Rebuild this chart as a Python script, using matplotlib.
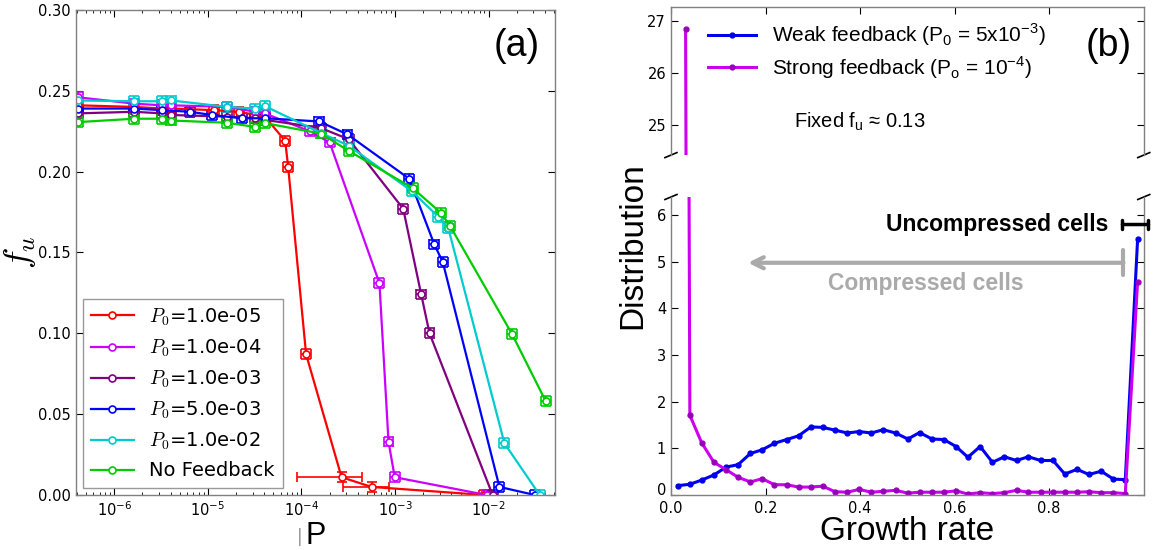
import numpy as np
import matplotlib
matplotlib.use("Agg")
import matplotlib.pyplot as plt
import matplotlib.transforms as mtransforms
from matplotlib.ticker import FormatStrFormatter, LogLocator, NullFormatter

# ---------------- panel (a) data: f_u versus P ----------------
labels_a = [r"$P_0$=1.0e-05", r"$P_0$=1.0e-04", r"$P_0$=1.0e-03",
            r"$P_0$=5.0e-03", r"$P_0$=1.0e-02", "No Feedback"]
colors_a = ["#ff0000", "#cc00ff", "#800080", "#0000ff", "#00cccc", "#00cc00"]

red_P = [4.06e-7, 1.64e-6, 3.22e-6, 4.06e-6, 1.17e-5, 2.13e-5, 4.06e-5, 6.7e-5, 7.2e-5, 1.12e-4, 2.68e-4, 5.6e-4, 9.0e-3]
red_f = [0.241, 0.240, 0.239, 0.239, 0.238, 0.237, 0.234, 0.219, 0.203, 0.087, 0.011, 0.005, 0.0]
mag_P = [4.06e-7, 1.64e-6, 3.22e-6, 4.06e-6, 1.61e-5, 3.22e-5, 4.06e-5, 1.22e-4, 2.0e-4, 6.8e-4, 8.5e-4, 9.9e-4, 9.5e-3]
mag_f = [0.246, 0.242, 0.241, 0.241, 0.240, 0.237, 0.236, 0.225, 0.218, 0.131, 0.033, 0.011, 0.0]
pur_P = [4.06e-7, 1.64e-6, 3.22e-6, 4.06e-6, 1.61e-5, 3.22e-5, 4.06e-5, 1.6e-4, 3.2e-4, 1.22e-3, 1.9e-3, 2.33e-3, 1.1e-2]
pur_f = [0.236, 0.237, 0.236, 0.235, 0.234, 0.233, 0.232, 0.227, 0.220, 0.177, 0.124, 0.100, 0.0]
blu_P = [4.06e-7, 1.64e-6, 3.22e-6, 6.5e-6, 1.1e-5, 2.3e-5, 4.06e-5, 1.55e-4, 3.1e-4, 1.42e-3, 2.62e-3, 3.23e-3, 1.3e-2, 3.1e-2]
blu_f = [0.239, 0.239, 0.238, 0.237, 0.235, 0.233, 0.233, 0.231, 0.223, 0.1955, 0.155, 0.144, 0.005, 0.0]
cya_P = [4.06e-7, 1.64e-6, 3.22e-6, 4.06e-6, 1.61e-5, 3.22e-5, 4.06e-5, 1.6e-4, 3.2e-4, 1.5e-3, 2.9e-3, 3.7e-3, 1.47e-2, 3.5e-2]
cya_f = [0.244, 0.2435, 0.2435, 0.244, 0.240, 0.239, 0.2405, 0.224, 0.216, 0.188, 0.172, 0.165, 0.032, 0.0]
gre_P = [4.06e-7, 1.64e-6, 3.22e-6, 4.06e-6, 1.61e-5, 3.22e-5, 4.06e-5, 1.61e-4, 3.22e-4, 1.54e-3, 3.08e-3, 3.87e-3, 1.77e-2, 4.06e-2]
gre_f = [0.2306, 0.2327, 0.2327, 0.2316, 0.2302, 0.2276, 0.230, 0.2235, 0.2127, 0.1898, 0.1745, 0.1663, 0.0996, 0.058]

f_err = 0.003          # error on f_u
P_err_frac = 0.13      # relative error on P
red_wide_err = {10: (9.0e-5, 4.4e-4), 11: (2.8e-4, 8.5e-4)}   # wide P error bars on red curve

# ---------------- panel (b) data: growth rate distribution ----------------
growth = [0.014, 0.040, 0.065, 0.091, 0.117, 0.142, 0.168, 0.193, 0.219, 0.245,
          0.270, 0.296, 0.321, 0.347, 0.373, 0.398, 0.424, 0.449, 0.475, 0.501,
          0.526, 0.552, 0.577, 0.603, 0.628, 0.654, 0.680, 0.705, 0.731, 0.756,
          0.782, 0.808, 0.833, 0.859, 0.884, 0.910, 0.936, 0.961, 0.987]
weak = [0.20, 0.23, 0.32, 0.43, 0.60, 0.65, 0.89, 0.97, 1.11, 1.19,
        1.27, 1.46, 1.45, 1.39, 1.33, 1.36, 1.33, 1.40, 1.33, 1.20,
        1.34, 1.20, 1.19, 1.04, 0.81, 1.04, 0.70, 0.82, 0.74, 0.82,
        0.74, 0.74, 0.45, 0.55, 0.44, 0.51, 0.34, 0.33, 5.48]
strong_x = [0.031] + growth[1:]
strong = [26.85, 1.71, 1.12, 0.70, 0.54, 0.38, 0.28, 0.35, 0.22, 0.22, 0.17,
          0.17, 0.19, 0.07, 0.06, 0.12, 0.06, 0.08, 0.10, 0.04, 0.06,
          0.06, 0.06, 0.09, 0.02, 0.05, 0.03, 0.05, 0.10, 0.06, 0.06,
          0.06, 0.06, 0.06, 0.07, 0.05, 0.05, 0.03, 4.57]

plt.rcParams.update({
    "font.family": "DejaVu Sans",
    "xtick.direction": "in", "ytick.direction": "in",
    "xtick.top": True, "ytick.right": True,
    "xtick.major.size": 5, "ytick.major.size": 5,
    "xtick.minor.size": 2.5, "ytick.minor.size": 2.5,
    "xtick.labelsize": 10.5, "ytick.labelsize": 10.5,
    "axes.edgecolor": "0.5",
    "axes.linewidth": 1.0,
})

fig = plt.figure(figsize=(11.56, 5.5), dpi=100)

# ---------------- panel (a) ----------------
ax = fig.add_axes([0.0657, 0.1, 0.4144, 0.882])
series = [(red_P, red_f), (mag_P, mag_f), (pur_P, pur_f),
          (blu_P, blu_f), (cya_P, cya_f), (gre_P, gre_f)]
handles = []
for i, (P, f) in enumerate(series):
    P = np.array(P)
    lo = P - P / (1 + P_err_frac)
    hi = P * P_err_frac
    if i == 0:
        for k, (a, b) in red_wide_err.items():
            lo[k] = P[k] - a
            hi[k] = b - P[k]
    eb = ax.errorbar(P, f, xerr=[lo, hi], yerr=f_err, color=colors_a[i],
                     marker="o", mfc="white", mec=colors_a[i], ms=5, mew=1.2,
                     lw=1.6, elinewidth=1.2, capsize=3.5, capthick=1.2)
    handles.append(eb[0])

ax.set_xscale("log")
ax.set_xlim(3.9e-7, 5.1e-2)
ax.set_ylim(0, 0.30)
ax.set_yticks([0, 0.05, 0.10, 0.15, 0.20, 0.25, 0.30])
ax.yaxis.set_major_formatter(FormatStrFormatter("%.2f"))
ax.xaxis.set_major_locator(LogLocator(base=10, numticks=12))
ax.xaxis.set_minor_locator(LogLocator(base=10, subs=np.arange(2, 10), numticks=12))
ax.xaxis.set_minor_formatter(NullFormatter())
ax.set_ylabel(r"$f_u$", fontsize=26, math_fontfamily="cm", labelpad=0)
ax.set_xlabel("P", fontsize=22, family="Liberation Sans", labelpad=2)
fig.text(0.2595, 0.024, "|", color="0.55", fontsize=12, ha="center", va="center")
ax.text(0.92, 0.925, "(a)", transform=ax.transAxes, fontsize=27,
        family="Liberation Sans", ha="center", va="center")
leg = ax.legend(handles, labels_a, loc="lower left", bbox_to_anchor=(0.015, 0.014),
                borderaxespad=0, numpoints=1, fancybox=False,
                prop={"size": 14, "math_fontfamily": "cm"}, handlelength=2.2)
leg.get_frame().set_edgecolor("0.5")

# ---------------- panel (b) ----------------
axt = fig.add_axes([0.5804, 0.718, 0.409, 0.269])
axb = fig.add_axes([0.5804, 0.1, 0.409, 0.5418])
for a in (axt, axb):
    a.plot(growth, weak, "-o", color="#0000ee", ms=3.5, lw=2.2,
           label=r"Weak feedback (P$_\mathregular{0}$ = 5x10$^\mathregular{-3}$)")
    a.plot(strong_x, strong, "-o", color="#cc00ee", mfc="#9900bb", mec="#9900bb",
           ms=3.5, lw=2.2,
           label=r"Strong feedback (P$_\mathregular{o}$ = 10$^\mathregular{-4}$)")
    a.set_xlim(0, 1.0)
    a.set_xticks([0, 0.2, 0.4, 0.6, 0.8])

axt.set_ylim(24.42, 27.27)
axt.set_yticks([25, 26, 27])
axb.set_ylim(0, 6.39)
axb.set_yticks([0, 1, 2, 3, 4, 5, 6])
axt.spines["bottom"].set_visible(False)
axb.spines["top"].set_visible(False)
axt.xaxis.tick_top()
axt.tick_params(labeltop=False)
axb.xaxis.tick_bottom()
axb.tick_params(axis="x", pad=4.5)
axb.xaxis.set_major_formatter(FormatStrFormatter("%.1f"))

# nudge the "0" label up a little so it does not sit on "0.0"
fig.canvas.draw()
zero_lab = axb.get_yticklabels()[0]
zero_lab.set_transform(zero_lab.get_transform() +
                       mtransforms.ScaledTranslation(0, 4 / 72, fig.dpi_scale_trans))

# break marks
kw = dict(color="k", clip_on=False, lw=1.2)
dx = 0.0127
axt.plot([-dx, dx], [-0.017, 0.017], transform=axt.transAxes, **kw)
axt.plot([1 - dx, 1 + dx], [-0.017, 0.017], transform=axt.transAxes, **kw)
axb.plot([-dx, dx], [1 - 0.0084, 1 + 0.0084], transform=axb.transAxes, **kw)
axb.plot([1 - dx, 1 + dx], [1 - 0.0084, 1 + 0.0084], transform=axb.transAxes, **kw)

axt.legend(loc="upper left", bbox_to_anchor=(0.06, 0.96), borderaxespad=0,
           frameon=False, numpoints=1, prop={"family": "Liberation Sans", "size": 15},
           handlelength=2.3, labelspacing=0.3)
axt.text(0.26, 25.07, r"Fixed f$_\mathregular{u}$ ≈ 0.13", fontsize=14.5,
         family="Liberation Sans", ha="left", va="center")
axt.text(0.925, 26.52, "(b)", fontsize=27, family="Liberation Sans",
         ha="center", va="center")

axb.text(0.925, 5.8, "Uncompressed cells", fontsize=16.5, fontweight="bold",
         family="Liberation Sans", ha="right", va="center")
axb.annotate("", xy=(0.955, 5.8), xytext=(1.01, 5.8), annotation_clip=False,
             arrowprops=dict(arrowstyle="|-|,widthA=0.35,widthB=0.35", lw=2.5,
                             color="k", shrinkA=0, shrinkB=0))
axb.annotate("", xy=(0.957, 4.98), xytext=(0.163, 4.98),
             arrowprops=dict(arrowstyle="<-[,widthB=0.45,lengthB=0",
                             lw=3, color="#aaaaaa", shrinkA=0, shrinkB=0,
                             mutation_scale=20))
axb.text(0.54, 4.53, "Compressed cells", fontsize=16.5, fontweight="bold",
         color="#aaaaaa", family="Liberation Sans", ha="center", va="center")

axb.set_xlabel("Growth rate", fontsize=24, family="Liberation Sans", labelpad=0)
fig.text(0.547, 0.553, "Distribution", rotation=90, fontsize=24,
         family="Liberation Sans", ha="center", va="center")

fig.savefig("out.png", dpi=100)
